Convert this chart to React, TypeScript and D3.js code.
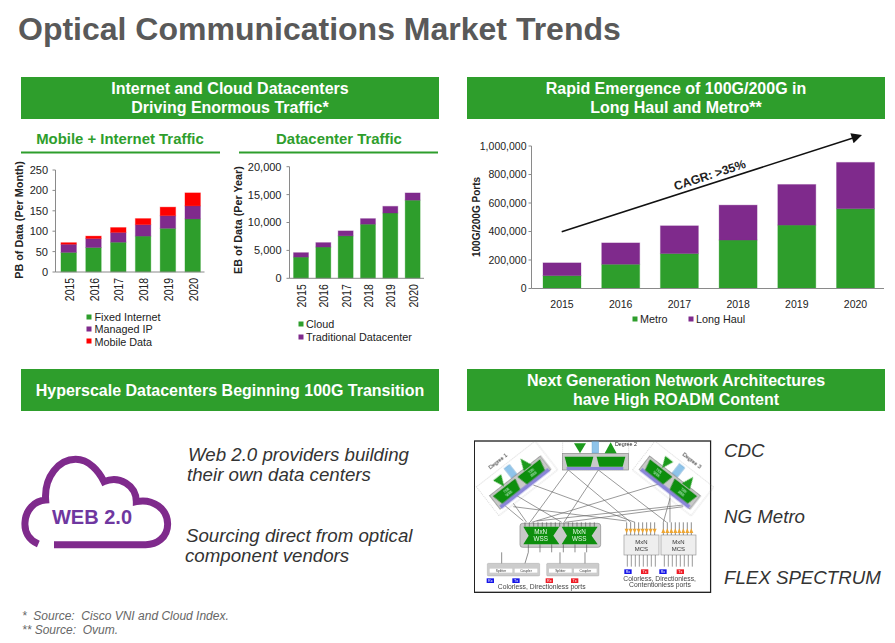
import React from "react";
import * as d3 from "d3";

const GREEN = "#2e9e2c";
const PURPLE = "#7f2a8c";
const RED = "#ff0000";
const AXIS = "#8a8a8a";
const FONT = "'Liberation Sans', Arial, sans-serif";

const years = ["2015", "2016", "2017", "2018", "2019", "2020"];
const fixedInternet = [48, 60, 73, 88, 107, 130];
const managedIP = [20, 22, 24, 28, 31, 32];
const mobileData = [4, 6, 12, 15, 21, 32];
const cloud = [3800, 5600, 7600, 9700, 11700, 14000];
const traditional = [800, 800, 900, 1000, 1200, 1300];
const metro = [90000, 170000, 245000, 340000, 445000, 560000];
const longHaul = [90000, 150000, 195000, 245000, 285000, 325000];
const ticks1 = [0, 50, 100, 150, 200, 250];
const ticks2 = [0, 5000, 10000, 15000, 20000];
const ticks3 = [0, 200000, 400000, 600000, 800000, 1000000];

type Serie = { name: string; color: string; values: number[] };
type ChartProps = {
  series: Serie[]; ticks: number[]; x0: number; x1: number; yTop: number; yBottom: number;
  step: number; first: number; barW: number; fs: number; gap: number; rotate: boolean;
};

function StackChart({ series, ticks, x0, x1, yTop, yBottom, first, step, barW, fs, gap, rotate }: ChartProps) {
  const y = d3.scaleLinear().domain([ticks[0], ticks[ticks.length - 1]]).range([yBottom, yTop]);
  const x = d3.scalePoint<string>().domain(years).range([first, first + step * 5]);
  const stack = d3.stack<any, number>().keys(d3.range(series.length))
    .value((_, k) => series[k].values[_ as number])(d3.range(years.length) as any);
  const fmt = d3.format(",");
  return (
    <g>
      {stack.map((layer, k) => layer.map((d, i) => (
        <rect key={k + "-" + i} x={x(years[i])! - barW / 2} width={barW} y={y(d[1])} height={y(d[0]) - y(d[1])}
          fill={series[k].color} stroke={series[k].color} strokeOpacity={0.3} strokeWidth={1} />
      )))}
      <line x1={x0} x2={x0} y1={yTop} y2={yBottom} stroke={AXIS} />
      <line x1={x0} x2={x1} y1={yBottom} y2={yBottom} stroke={AXIS} />
      {ticks.map(t => (
        <g key={t}>
          <line x1={x0 - 3} x2={x0} y1={y(t)} y2={y(t)} stroke={AXIS} />
          <text x={x0 - gap} y={y(t) + fs * 0.36} textAnchor="end" fontSize={fs} fill="#222">{fmt(t)}</text>
        </g>
      ))}
      {years.map(yr => rotate ? (
        <text key={yr} transform={`translate(${x(yr)! + 5},${yBottom + 6}) rotate(-90) scale(1,1.25)`} textAnchor="end" fontSize={10.4} fill="#222">{yr}</text>
      ) : (
        <text key={yr} x={x(yr)} y={yBottom + 19} textAnchor="middle" fontSize={fs} fill="#222">{yr}</text>
      ))}
    </g>
  );
}

const headers = [
  { x: 21, y: 77, lines: ["Internet and Cloud Datacenters", "Driving Enormous Traffic*"] },
  { x: 467, y: 77, lines: ["Rapid Emergence of 100G/200G in", "Long Haul and Metro**"] },
  { x: 21, y: 369, lines: ["Hyperscale Datacenters Beginning 100G Transition"] },
  { x: 467, y: 369, lines: ["Next Generation Network Architectures", "have High ROADM Content"] },
];

const legends = [
  { x: 89, y: 317, tx: 94.5, by: 321, label: "Fixed Internet", color: GREEN },
  { x: 89, y: 329, tx: 94.5, by: 333, label: "Managed IP", color: PURPLE },
  { x: 89, y: 341, tx: 94.5, by: 345.5, label: "Mobile Data", color: RED },
  { x: 301, y: 324, tx: 306, by: 328, label: "Cloud", color: GREEN },
  { x: 301, y: 337, tx: 306, by: 341, label: "Traditional Datacenter", color: PURPLE },
  { x: 635, y: 319, tx: 640, by: 323, label: "Metro", color: GREEN },
  { x: 691, y: 319, tx: 696, by: 323, label: "Long Haul", color: PURPLE },
];

const bulletText = [
  { x: 188, y: 461, t: "Web 2.0 providers building" },
  { x: 187, y: 481, t: "their own data centers" },
  { x: 186, y: 542, t: "Sourcing direct from optical" },
  { x: 185, y: 562, t: "component vendors" },
  { x: 724, y: 457, t: "CDC" },
  { x: 724, y: 523, t: "NG Metro" },
  { x: 724, y: 584, t: "FLEX SPECTRUM" },
];

const netLines = [
  [295, 105, 180, 262], [385, 105, 282, 262], [295, 105, 482, 262], [385, 105, 590, 262],
  [190, 150, 495, 262], [130, 205, 170, 262], [105, 212, 160, 258], [130, 215, 470, 258],
  [120, 170, 275, 262], [600, 150, 600, 262], [590, 140, 185, 262], [640, 215, 285, 262],
  [600, 190, 580, 262], [640, 210, 200, 258],
];

function Degree({ cx, cy, angle, label, labelAt }: { cx: number; cy: number; angle: number; label: string; labelAt: number[] }) {
  const trap = (x: number) => `M${x - 42},-17 L${x + 42},-17 L${x + 34},17 L${x - 34},17 Z`;
  return (
    <g>
      <g transform={`translate(${cx},${cy}) rotate(${angle})`}>
        <rect x={-112} y={-70} width={224} height={110} fill="none" stroke="#777" strokeDasharray="3 3" />
        <rect x={-97} y={-25} width={194} height={52} fill="#c9c9c9" stroke="#888" strokeWidth={2} />
        <rect x={-92} y={17} width={184} height={12} fill="#8a86d8" />
        <path d={trap(-47)} fill="#0f8f0f" stroke="#0a6a0a" />
        <path d={trap(47)} fill="#0f8f0f" stroke="#0a6a0a" />
        <text x={-47} y={-2} textAnchor="middle" fontSize={9} fill="#dfe">TXN</text>
        <text x={-47} y={10} textAnchor="middle" fontSize={9} fill="#dfe">WSS</text>
        <text x={47} y={-2} textAnchor="middle" fontSize={9} fill="#dfe">TXN</text>
        <text x={47} y={10} textAnchor="middle" fontSize={9} fill="#dfe">WSS</text>
        <path d="M-60,-20 L-45,-55 L-30,-20 Z" transform="rotate(180 -45 -37)" fill="#1a9a1a" />
        <path d="M30,-20 L45,-55 L60,-20 Z" fill="#1a9a1a" />
        <rect x={-12} y={-62} width={20} height={36} fill="#8fc4ea" stroke="#5d96c4" />
      </g>
      <text transform={`translate(${labelAt[0]},${labelAt[1]}) rotate(${angle})`} fontSize={16} textAnchor="middle" fill="#222">{label}</text>
    </g>
  );
}

function Diagram() {
  const portsA = d3.range(165, 385, 13);
  const portsB = d3.range(470, 560, 12);
  const portsC = d3.range(580, 672, 12);
  const hourglass = (x: number) => `M${x},275 L${x + 108},275 L${x + 90},302 L${x + 108},328 L${x},328 L${x + 16},302 Z`;
  return (
    <g transform="translate(470,435) scale(0.3333)" filter="url(#soft)" fontFamily={FONT}>
      <rect x={13} y={18} width={709} height={454} fill="#fff" stroke="#222" strokeWidth={4} />
      {netLines.map((l, i) => <line key={i} x1={l[0]} y1={l[1]} x2={l[2]} y2={l[3]} stroke="#666" strokeWidth={2} />)}
      <rect x={278} y={20} width={198} height={84} fill="none" stroke="#777" strokeDasharray="3 3" />
      <rect x={278} y={55} width={198} height={50} fill="#c9c9c9" stroke="#888" strokeWidth={2} />
      <path d="M284,65 L370,65 L362,95 L292,95 Z" fill="#0f8f0f" />
      <path d="M380,65 L466,65 L458,95 L388,95 Z" fill="#0f8f0f" />
      <rect x={290} y={96} width={170} height={9} fill="#8a86d8" />
      <path d="M312,25 L348,25 L330,55 Z" fill="#1a9a1a" />
      <path d="M404,55 L440,55 L422,22 Z" fill="#1a9a1a" />
      <rect x={366} y={20} width={20} height={34} fill="#8fc4ea" stroke="#5d96c4" />
      <text x={468} y={33} textAnchor="middle" fontSize={16} fill="#222">Degree 2</text>
      <Degree cx={150} cy={142} angle={-38} label="Degree 1" labelAt={[88, 84]} />
      <Degree cx={600} cy={142} angle={38} label="Degree 3" labelAt={[662, 82]} />
      <rect x={150} y={265} width={242} height={72} rx={8} fill="#c9c9c9" stroke="#888" strokeWidth={2} />
      {portsA.map(x => <line key={x} x1={x} x2={x} y1={262} y2={275} stroke="#555" strokeWidth={2} />)}
      {d3.range(175, 380, 35).map(x => <line key={x} x1={x} x2={x} y1={328} y2={352} stroke="#555" strokeWidth={2} />)}
      <path d={hourglass(160)} fill="#0f8f0f" />
      <path d={hourglass(275)} fill="#0f8f0f" />
      <text x={212} y={298} textAnchor="middle" fontSize={19} fill="#e8f8e8">MxN</text>
      <text x={212} y={319} textAnchor="middle" fontSize={19} fill="#e8f8e8">WSS</text>
      <text x={328} y={298} textAnchor="middle" fontSize={19} fill="#e8f8e8">MxN</text>
      <text x={328} y={319} textAnchor="middle" fontSize={19} fill="#e8f8e8">WSS</text>
      {[462, 573].map(x => (
        <g key={x}>
          <rect x={x} y={300} width={105} height={60} fill="#eee" stroke="#999" strokeWidth={2} />
          <text x={x + 52} y={326} textAnchor="middle" fontSize={18} fill="#333">MxN</text>
          <text x={x + 52} y={347} textAnchor="middle" fontSize={18} fill="#333">MCS</text>
          {d3.range(x + 10, x + 100, 12).map(px => <line key={px} x1={px} x2={px} y1={360} y2={395} stroke="#666" strokeWidth={2} />)}
        </g>
      ))}
      {portsB.map(x => <g key={x}><line x1={x} x2={x} y1={262} y2={300} stroke="#555" strokeWidth={2} /><path d={`M${x - 6},281 L${x + 6},281 L${x},295 Z`} fill="#eda531" /></g>)}
      {portsC.map(x => <g key={x}><line x1={x} x2={x} y1={262} y2={300} stroke="#555" strokeWidth={2} /><path d={`M${x - 6},294 L${x + 6},294 L${x},280 Z`} fill="#eda531" /></g>)}
      {[52, 230].map(x => (
        <g key={x}>
          <rect x={x} y={385} width={157} height={38} rx={3} fill="#ccc" stroke="#999" />
          <rect x={x + 7} y={401} width={68} height={12} fill="#fff" />
          <rect x={x + 82} y={401} width={68} height={12} fill="#fff" />
          <text x={x + 41} y={411} textAnchor="middle" fontSize={10} fill="#333">Splitter</text>
          <text x={x + 116} y={411} textAnchor="middle" fontSize={10} fill="#333">Coupler</text>
        </g>
      ))}
      {[[95, 352, 95, 385], [175, 352, 165, 385], [270, 352, 270, 385], [345, 352, 345, 385]].map((l, i) => (
        <line key={i} x1={l[0]} y1={l[1]} x2={l[2]} y2={l[3]} stroke="#555" strokeWidth={2} />
      ))}
      {[[50, "Rx", "#1515e8"], [127, "Tx", "#1515e8"], [227, "Rx", "#ee1c25"], [303, "Tx", "#ee1c25"]].map((b: any) => (
        <g key={b[0]}><rect x={b[0]} y={430} width={22} height={14} fill={b[2]} /><text x={b[0] + 11} y={441} textAnchor="middle" fontSize={11} fill="#fff">{b[1]}</text></g>
      ))}
      {[[463, "Rx", "#1515e8"], [513, "Tx", "#ee1c25"], [568, "Rx", "#1515e8"], [620, "Tx", "#ee1c25"]].map((b: any) => (
        <g key={b[0]}><rect x={b[0]} y={403} width={22} height={14} fill={b[2]} /><text x={b[0] + 11} y={414} textAnchor="middle" fontSize={11} fill="#fff">{b[1]}</text></g>
      ))}
      <text x={215} y={462} textAnchor="middle" fontSize={20.4} fill="#444">Colorless, Directionless ports</text>
      <text x={569} y={437} textAnchor="middle" fontSize={20.4} fill="#444">Colorless, Directionless,</text>
      <text x={570} y={457} textAnchor="middle" fontSize={20.4} fill="#444">Contentionless ports</text>
    </g>
  );
}

export default function App() {
  const s1: Serie[] = [
    { name: "Fixed Internet", color: GREEN, values: fixedInternet },
    { name: "Managed IP", color: PURPLE, values: managedIP },
    { name: "Mobile Data", color: RED, values: mobileData },
  ];
  const s2: Serie[] = [
    { name: "Cloud", color: GREEN, values: cloud },
    { name: "Traditional Datacenter", color: PURPLE, values: traditional },
  ];
  const s3: Serie[] = [
    { name: "Metro", color: GREEN, values: metro },
    { name: "Long Haul", color: PURPLE, values: longHaul },
  ];
  return (
    <svg width={895} height={643} style={{ position: "absolute", left: 0, top: 0, background: "#fff" }} fontFamily={FONT}>
      <defs>
        <filter id="soft" x="0" y="0" width="1" height="1"><feGaussianBlur stdDeviation="0.45" /></filter>
        <marker id="arrow" viewBox="0 0 10 10" refX="8" refY="5" markerWidth="9" markerHeight="7" orient="auto">
          <path d="M0,0 L10,5 L0,10 Z" fill="#111" />
        </marker>
      </defs>
      <text x={18} y={40} fontSize={32} fontWeight="bold" fill="#595959">Optical Communications Market Trends</text>
      {headers.map(h => (
        <g key={h.lines[0]}>
          <rect x={h.x} y={h.y} width={418} height={42} fill={GREEN} />
          {h.lines.map((l, i) => (
            <text key={l} x={h.x + 209} y={h.y + (h.lines.length === 1 ? 27 : 17 + i * 19)} textAnchor="middle" fontSize={16} fontWeight="bold" fill="#fff">{l}</text>
          ))}
        </g>
      ))}
      <text x={120} y={144} textAnchor="middle" fontSize={14.9} fontWeight="bold" fill={GREEN}>Mobile + Internet Traffic</text>
      <line x1={21} x2={220} y1={152.5} y2={152.5} stroke={GREEN} strokeWidth={2} />
      <text x={339} y={144} textAnchor="middle" fontSize={14.9} fontWeight="bold" fill={GREEN}>Datacenter Traffic</text>
      <line x1={239} x2={438} y1={152.5} y2={152.5} stroke={GREEN} strokeWidth={2} />

      <StackChart series={s1} ticks={ticks1} x0={55.5} x1={204.5} yTop={170} yBottom={272} first={68.7} step={24.8} barW={15.5} fs={11} gap={7.5} rotate />
      <StackChart series={s2} ticks={ticks2} x0={289.5} x1={424} yTop={166.7} yBottom={278.3} first={301} step={22.33} barW={15} fs={11} gap={8} rotate />
      <StackChart series={s3} ticks={ticks3} x0={531.5} x1={884} yTop={146} yBottom={288.5} first={562} step={58.7} barW={38} fs={10.5} gap={5} rotate={false} />

      <text transform="translate(23,220) rotate(-90)" textAnchor="middle" fontSize={10.8} fontWeight="bold" fill="#222">PB of Data (Per Month)</text>
      <text transform="translate(241.5,220) rotate(-90)" textAnchor="middle" fontSize={10.8} fontWeight="bold" fill="#222">EB of Data (Per Year)</text>
      <text transform="translate(480,217) rotate(-90)" textAnchor="middle" fontSize={10} fontWeight="bold" fill="#222">100G/200G Ports</text>

      {legends.map(l => (
        <g key={l.label}>
          <rect x={l.x - 2.5} y={l.y - 2.5} width={5} height={5} fill={l.color} />
          <text x={l.tx} y={l.by} fontSize={10.8} fill="#222">{l.label}</text>
        </g>
      ))}

      <line x1={561.7} y1={231.7} x2={860} y2={135.7} stroke="#111" strokeWidth={1.5} markerEnd="url(#arrow)" />
      <text transform="translate(711,179) rotate(-18)" textAnchor="middle" fontSize={12.2} fontWeight="bold" fill="#222">CAGR: &gt;35%</text>

      <g transform="translate(9,444) scale(0.3333)">
        <path d="M88,300 C58,287 46,262 48,235 C50,198 76,170 110,168 C105,98 150,46 200,46 C240,46 270,82 285,113 C330,93 382,123 382,173 C432,163 476,195 476,240 C476,282 442,302 410,302 L135,302"
          fill="none" stroke={PURPLE} strokeWidth={21} />
      </g>
      <text x={92} y={524} textAnchor="middle" fontSize={20} fontWeight="bold" fill="#6f37a0">WEB 2.0</text>

      {bulletText.map(b => <text key={b.t} x={b.x} y={b.y} fontSize={18.7} fontStyle="italic" fill="#333">{b.t}</text>)}

      <Diagram />

      <text x={22} y={620} fontSize={12} fontStyle="italic" fill="#666" xmlSpace="preserve">*  Source:  Cisco VNI and Cloud Index.</text>
      <text x={22} y={634} fontSize={12} fontStyle="italic" fill="#666" xmlSpace="preserve">** Source:  Ovum.</text>
    </svg>
  );
}
